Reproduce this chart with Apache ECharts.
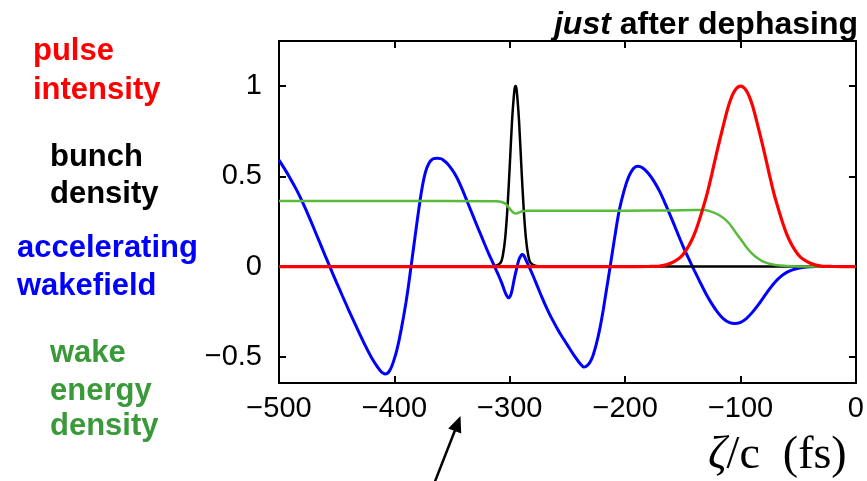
<!DOCTYPE html>
<html>
<head>
<meta charset="utf-8">
<script src="https://cdn.jsdelivr.net/npm/echarts@6/dist/echarts.min.js"></script>
<style>
html,body{margin:0;padding:0;background:#fff;}
#chart{width:867px;height:481px;}
</style>
</head>
<body>
<div id="chart"></div>
<script>
// ---- data ----
const xTicks = [-500, -400, -300, -200, -100, 0];
const yTicks = [-0.5, 0, 0.5, 1];

const wakefield = [
  [-500,0.590],[-495,0.540],[-490,0.486],[-485,0.428],[-480,0.363],[-475,0.291],[-470,0.215],
  [-465,0.138],[-460,0.061],[-455,-0.015],[-450,-0.090],[-445,-0.163],[-440,-0.235],[-435,-0.305],
  [-430,-0.374],[-425,-0.441],[-420,-0.502],[-415,-0.553],[-412,-0.578],[-410,-0.589],[-408,-0.595],
  [-406,-0.591],[-404,-0.575],[-402,-0.548],[-400,-0.51],[-398,-0.465],[-396,-0.41],[-394,-0.345],
  [-392,-0.275],[-390,-0.20],[-388,-0.115],[-386,-0.02],[-384,0.075],[-382,0.17],[-380,0.265],
  [-378,0.355],[-376,0.435],[-374,0.50],[-372,0.545],[-370,0.573],[-368,0.59],[-366,0.598],
  [-363,0.601],[-360,0.598],[-358,0.592],[-354,0.570],[-350,0.537],[-346,0.495],[-342,0.440],
  [-338,0.378],[-334,0.315],[-330,0.252],[-326,0.19],[-322,0.128],[-318,0.068],[-314,0.012],
  [-310,-0.045],[-307,-0.09],[-304.5,-0.135],[-302.5,-0.163],[-301,-0.173],[-299.5,-0.163],
  [-298,-0.13],[-296,-0.065],[-294,-0.01],[-292,0.04],[-290,0.064],[-289,0.067],[-287.5,0.058],
  [-285.5,0.03],[-283,-0.005],[-280,-0.048],[-276,-0.11],[-272,-0.172],[-268,-0.23],[-264,-0.283],
  [-260,-0.33],[-256,-0.375],[-252,-0.415],[-248,-0.455],[-244,-0.495],[-240,-0.53],[-238,-0.545],
  [-236,-0.556],[-234,-0.553],[-231,-0.535],[-228,-0.495],[-225,-0.43],[-222,-0.345],[-219,-0.24],
  [-216,-0.12],[-213,0],[-209,0.165],[-205.2,0.309],[-201,0.42],[-197,0.497],[-193,0.542],
  [-189.4,0.556],[-185,0.548],[-180,0.517],[-175,0.472],[-170,0.415],[-165,0.345],[-160,0.27],
  [-155,0.192],[-150,0.115],[-145,0.045],[-140,-0.022],[-135,-0.087],[-130,-0.15],[-125,-0.205],
  [-120,-0.252],[-115,-0.288],[-110,-0.309],[-105,-0.316],[-100,-0.309],[-95,-0.288],[-90,-0.255],
  [-85,-0.215],[-80,-0.17],[-75,-0.125],[-70,-0.085],[-65,-0.054],[-60,-0.032],[-55,-0.018],
  [-50,-0.009],[-45,-0.004],[-40,-0.0015],[-35,0],[0,0]
];

const pulseIntensity = [
  [-500,0],[-300,0],[-190,0],[-180,0.0005],[-170,0.003],[-160,0.02],[-150,0.066],[-140,0.18],
  [-130,0.38],[-125,0.51],[-120,0.65],[-115,0.78],[-110,0.90],[-105,0.975],[-100,1.0],
  [-95,0.975],[-90,0.90],[-85,0.78],[-80,0.65],[-75,0.51],[-70,0.38],[-60,0.18],[-50,0.066],
  [-40,0.02],[-30,0.003],[-20,0.0005],[-10,0],[0,0]
];

const bunchDensity = [
  [-500,0],[-400,0],[-320,0],[-312,0.005],[-308,0.021],[-306,0.062],[-304,0.156],[-302,0.325],
  [-300,0.56],[-298,0.81],[-296,0.977],[-295,1],[-294,0.977],[-292,0.81],[-290,0.56],
  [-288,0.325],[-286,0.156],[-284,0.062],[-282,0.021],[-278,0.005],[-270,0],[-150,0],[0,0]
];

const wakeEnergy = [
  [-500,0.363],[-400,0.363],[-312,0.362],[-307,0.358],[-303,0.345],[-300,0.32],[-297,0.30],
  [-294.5,0.294],[-292,0.30],[-289,0.307],[-285,0.309],[-200,0.31],[-160,0.311],[-140,0.313],
  [-132,0.313],[-126,0.306],[-120,0.29],[-115,0.27],[-110,0.24],[-106,0.205],[-102,0.17],
  [-98,0.135],[-94,0.10],[-90,0.072],[-86,0.05],[-82,0.033],[-78,0.022],[-74,0.014],
  [-70,0.009],[-62,0.004],[-50,0.001],[-40,0],[0,0]
];

// ---- chart ----
const SANS = '"Liberation Sans", Arial, Helvetica, sans-serif';
const SERIF = '"Liberation Serif", "Times New Roman", serif';
const minus = v => String(v).replace('-', '\u2212');

const axisLine = {show: true, onZero: false, lineStyle: {color: '#000', width: 2}};
const axisTick = {show: true, inside: true, length: 7, lineStyle: {color: '#000', width: 2}};

const chart = echarts.init(document.getElementById('chart'), null, {renderer: 'canvas'});
chart.setOption({
  animation: false,
  backgroundColor: '#fff',
  title: {
    text: '{i|just} after dephasing',
    right: 9, top: 9, padding: 0,
    textStyle: {
      fontFamily: SANS, fontSize: 32, fontWeight: 'bold', color: '#000',
      rich: {i: {fontFamily: SANS, fontSize: 32, fontWeight: 'bold', fontStyle: 'italic', color: '#000'}}
    }
  },
  grid: {left: 279, right: 9, top: 41, bottom: 98, containLabel: false},
  xAxis: [{
    type: 'value', min: -500, max: 0, interval: 100, position: 'bottom',
    axisLine: axisLine, axisTick: axisTick, splitLine: {show: false},
    axisLabel: {show: true, margin: 11, fontFamily: SANS, fontSize: 29, color: '#000',
      customValues: xTicks, formatter: minus}
  }, {
    type: 'value', min: -500, max: 0, interval: 100, position: 'top',
    axisLine: axisLine, axisTick: axisTick, splitLine: {show: false},
    axisLabel: {show: false}
  }],
  yAxis: [{
    type: 'value', min: -0.645, max: 1.25, position: 'left',
    axisLine: axisLine,
    axisTick: Object.assign({}, axisTick, {customValues: yTicks}),
    splitLine: {show: false},
    axisLabel: {show: true, margin: 17, fontFamily: SANS, fontSize: 29, color: '#000',
      customValues: yTicks, formatter: minus}
  }, {
    type: 'value', min: -0.645, max: 1.25, position: 'right',
    axisLine: axisLine,
    axisTick: Object.assign({}, axisTick, {customValues: yTicks}),
    splitLine: {show: false}, axisLabel: {show: false}
  }],
  series: [
    {name: 'accelerating wakefield', type: 'line', data: wakefield, showSymbol: false, smooth: 0.3,
      lineStyle: {color: '#0000ff', width: 3}, z: 2},
    {name: 'bunch density', type: 'line', data: bunchDensity, showSymbol: false, smooth: 0.3,
      lineStyle: {color: '#000000', width: 2.5}, z: 3},
    {name: 'wake energy density', type: 'line', data: wakeEnergy, showSymbol: false, smooth: 0.3,
      lineStyle: {color: '#58bb3c', width: 2.5}, z: 4},
    {name: 'pulse intensity', type: 'line', data: pulseIntensity, showSymbol: false, smooth: 0.3,
      lineStyle: {color: '#ff0000', width: 3.2}, z: 5}
  ],
  graphic: [
    {type: 'text', left: 33, top: 52.4 - 16, style: {text: 'pulse', fill: '#ff0000', font: 'bold 31px ' + SANS}},
    {type: 'text', left: 33, top: 90.8 - 16, style: {text: 'intensity', fill: '#ff0000', font: 'bold 31px ' + SANS}},
    {type: 'text', left: 50, top: 158.4 - 16, style: {text: 'bunch', fill: '#000000', font: 'bold 31px ' + SANS}},
    {type: 'text', left: 50, top: 194.8 - 16, style: {text: 'density', fill: '#000000', font: 'bold 31px ' + SANS}},
    {type: 'text', left: 17, top: 249.1 - 16, style: {text: 'accelerating', fill: '#0000ff', font: 'bold 31px ' + SANS}},
    {type: 'text', left: 17, top: 286.8 - 16, style: {text: 'wakefield', fill: '#0000ff', font: 'bold 31px ' + SANS}},
    {type: 'text', left: 50, top: 354 - 16, style: {text: 'wake', fill: '#3a9a3a', font: 'bold 31px ' + SANS}},
    {type: 'text', left: 50, top: 391.8 - 16, style: {text: 'energy', fill: '#3a9a3a', font: 'bold 31px ' + SANS}},
    {type: 'text', left: 50, top: 427.4 - 16, style: {text: 'density', fill: '#3a9a3a', font: 'bold 31px ' + SANS}},
    {type: 'text', left: 708, top: 433, style: {
      text: '{z|\u03b6}/c  (fs)', fill: '#000', font: '46px ' + SERIF,
      rich: {z: {fontStyle: 'italic', fontFamily: SERIF, fontSize: 46, fill: '#000'}}
    }},
    {type: 'line', shape: {x1: 434, y1: 484, x2: 455.5, y2: 429}, style: {stroke: '#000', lineWidth: 2.5}},
    {type: 'polygon', shape: {points: [[460.5, 416], [448.2, 428.4], [461.2, 433.4]]}, style: {fill: '#000'}}
  ]
});
</script>
</body>
</html>
